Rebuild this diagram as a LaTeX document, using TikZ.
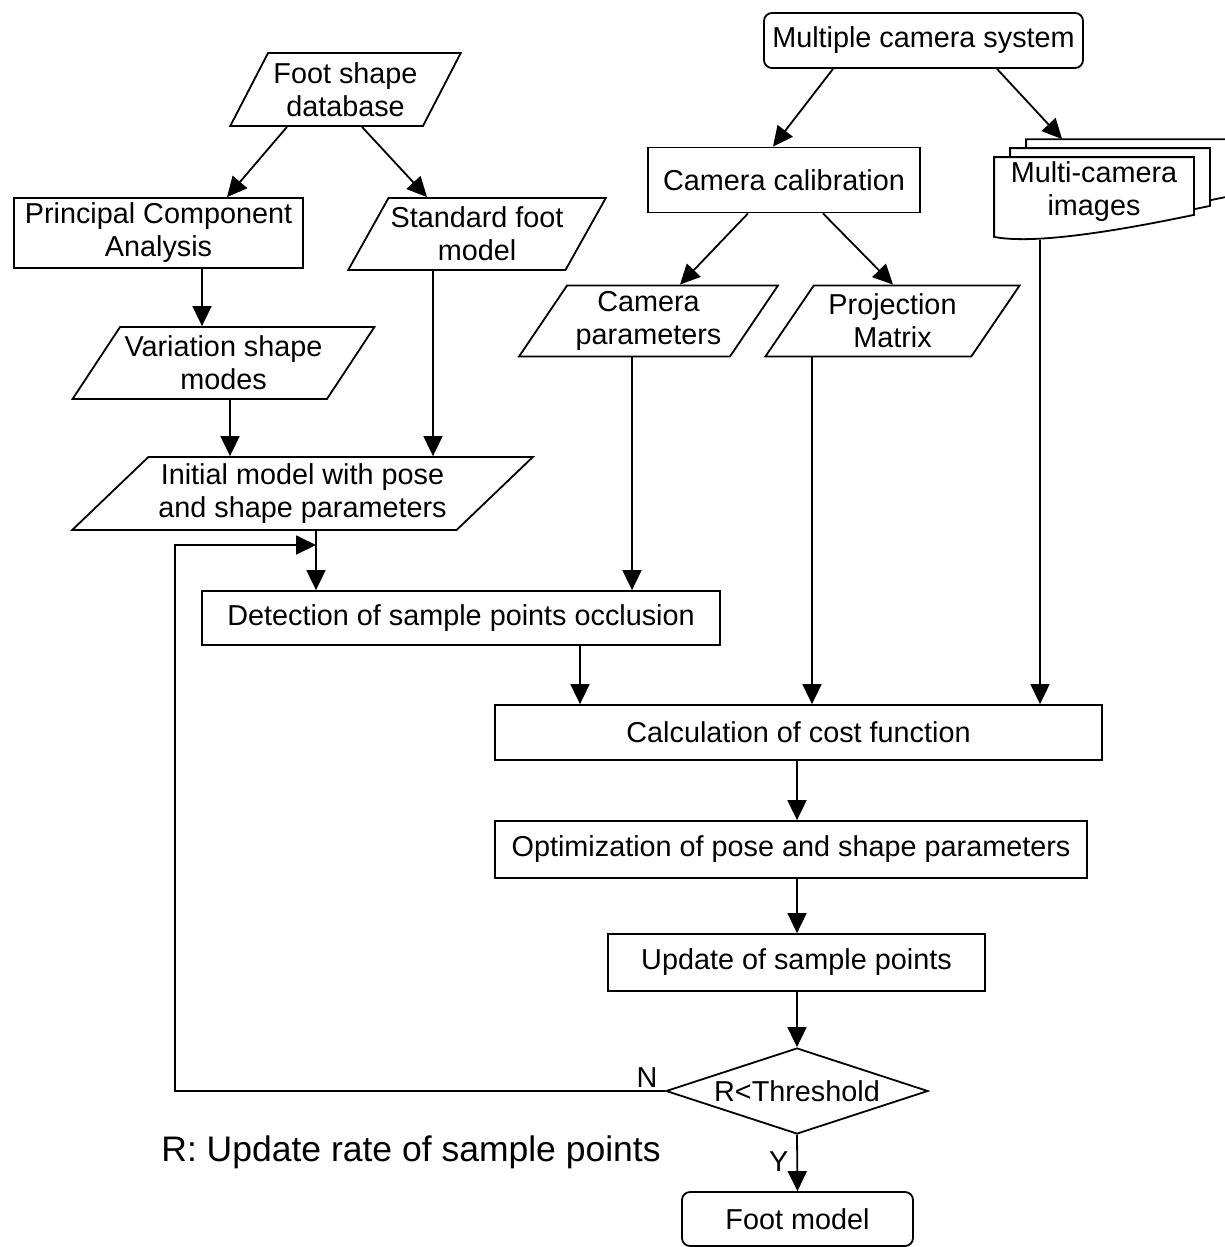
\documentclass[tikz,border=0pt]{standalone}
\usepackage{fontspec}
\setmainfont{Liberation Sans}
\usetikzlibrary{arrows.meta,shapes.geometric,calc,backgrounds}

\begin{document}
\begin{tikzpicture}[
    x=1pt, y=-1pt,
    font=\fontsize{28.8}{33}\selectfont,
    line width=1.8pt,
    process/.style={
        rectangle,
        draw,
        inner sep=0pt,
        align=center
    },
    dataio/.style={
        trapezium,
        trapezium left angle=#1,
        trapezium right angle={180-#1},
        trapezium stretches=true,
        draw,
        inner sep=0pt,
        align=center
    },
    terminal/.style={
        rectangle,
        rounded corners=8pt,
        draw,
        inner sep=0pt,
        align=center
    },
    decision/.style={
        diamond,
        draw,
        shape aspect=3,
        inner sep=0pt
    },
    page/.style={draw, fill=white, line width=1.8pt},
    flow/.style={-{Triangle[length=20pt,width=19pt]}}
]
\useasboundingbox (0,0) rectangle (1225,1247);

% -------------------- Foot shape branch ----------------------
\node[dataio=57, minimum width=231, minimum height=73] (fsdb) at (345.5,89.5) {Foot shape\\database};
\node[process, minimum width=289, minimum height=70] (pca) at (158.5,233) {Principal Component\\Analysis};
\node[dataio=54, minimum width=258, minimum height=72] (sfm) at (477,234) {Standard foot\\model};
\node[dataio=50, minimum width=303, minimum height=72] (vsm) at (223.5,363) {Variation shape\\modes};
\node[dataio=40, minimum width=461, minimum height=73] (init) at (302.5,493.5) {Initial model with pose\\and shape parameters};
\node[process, minimum width=518, minimum height=54] (det) at (461,618) {Detection of sample points occlusion};

% -------------------- Camera branch --------------------------
\node[terminal, minimum width=319, minimum height=55] (mcs) at (923.5,40.5) {Multiple camera system};
\node[process, minimum width=272, minimum height=65] (cal) at (784,180) {Camera calibration};
\node[minimum width=198, minimum height=64, inner sep=0pt, align=center] (mci) at (1094,192) {Multi-camera\\images};
\node[dataio=54, minimum width=259, minimum height=71] (cp) at (648.5,321) {Camera\\parameters};
\node[dataio=54, minimum width=255, minimum height=71] (pm) at (892.5,321) {Projection\\Matrix};

% stacked pages behind the image text
\begin{scope}[on background layer]
\foreach \s in {32,16,0} {
  \draw[page] ([shift={(\s,-0.56*\s-2)}]mci.north west) -- ([shift={(\s,-0.56*\s-2)}]mci.north east)
    -- ([shift={(\s,-0.56*\s-10)}]mci.south east)
    .. controls +(-53,11) and +(45,9) .. ([shift={(\s,-0.56*\s+12)}]mci.south west) -- cycle;
}
\end{scope}

% -------------------- Fitting loop ---------------------------
\node[process, minimum width=607, minimum height=55] (calc) at (798.5,732.5) {Calculation of cost function};
\node[process, minimum width=592, minimum height=57] (opt) at (791,849.5) {Optimization of pose and shape parameters};
\node[process, minimum width=377, minimum height=57] (upd) at (796.5,962.5) {Update of sample points};
\node[decision, minimum width=262, minimum height=86] (dec) at (797,1091) {R<Threshold};
\node[terminal, minimum width=231, minimum height=54] (fm) at (797.5,1219) {Foot model};

\node[font=\fontsize{35.5}{40}\selectfont] (note) at (411,1152) {R: Update rate of sample points};

\coordinate (join) at (316,545);

% -------------------- Flows ---------------------------------
\draw[flow] (fsdb.south -| 287,0) -- (pca.north -| 227,0);
\draw[flow] (fsdb.south -| 362,0) -- (sfm.north -| 427,0);
\draw[flow] (pca.south -| 202,0) -- (vsm.north -| 202,0);
\draw[flow] (vsm.south -| 230,0) -- (init.north -| 230,0);
\draw[flow] (sfm.south -| 433,0) -- (init.north -| 433,0);
\draw[flow] (init.south -| join) -- (det.north -| join);

\draw[flow] (mcs.south -| 833,0) -- (cal.north -| 773,0);
\draw[flow] (mcs.south -| 997,0) -- ($(mci.north west)+(68,-20)$);
\draw[flow] (cal.south -| 748,0) -- (cp.north -| 680,0);
\draw[flow] (cal.south -| 823,0) -- (pm.north -| 893,0);

\draw[flow] (cp.south -| 632,0) -- (det.north -| 632,0);
\draw[flow] (det.south -| 580,0) -- (calc.north -| 580,0);
\draw[flow] (pm.south -| 812,0) -- (calc.north -| 812,0);
\draw[flow] ($(mci.south -| 1040,0)+(0,15)$) -- (calc.north -| 1040,0);

\draw[flow] (calc.south -| dec) -- (opt.north -| dec);
\draw[flow] (opt.south -| dec) -- (upd.north -| dec);
\draw[flow] (upd.south -| dec) -- (dec.north);
\draw[flow] (dec.south) -- node[pos=0.48, left, inner sep=8pt] {Y} (fm.north);
\draw[flow] (dec.west) -- node[pos=0.037, above, inner sep=3pt] {N} (dec.west -| 175,0) |- (join);

\end{tikzpicture}
\end{document}
